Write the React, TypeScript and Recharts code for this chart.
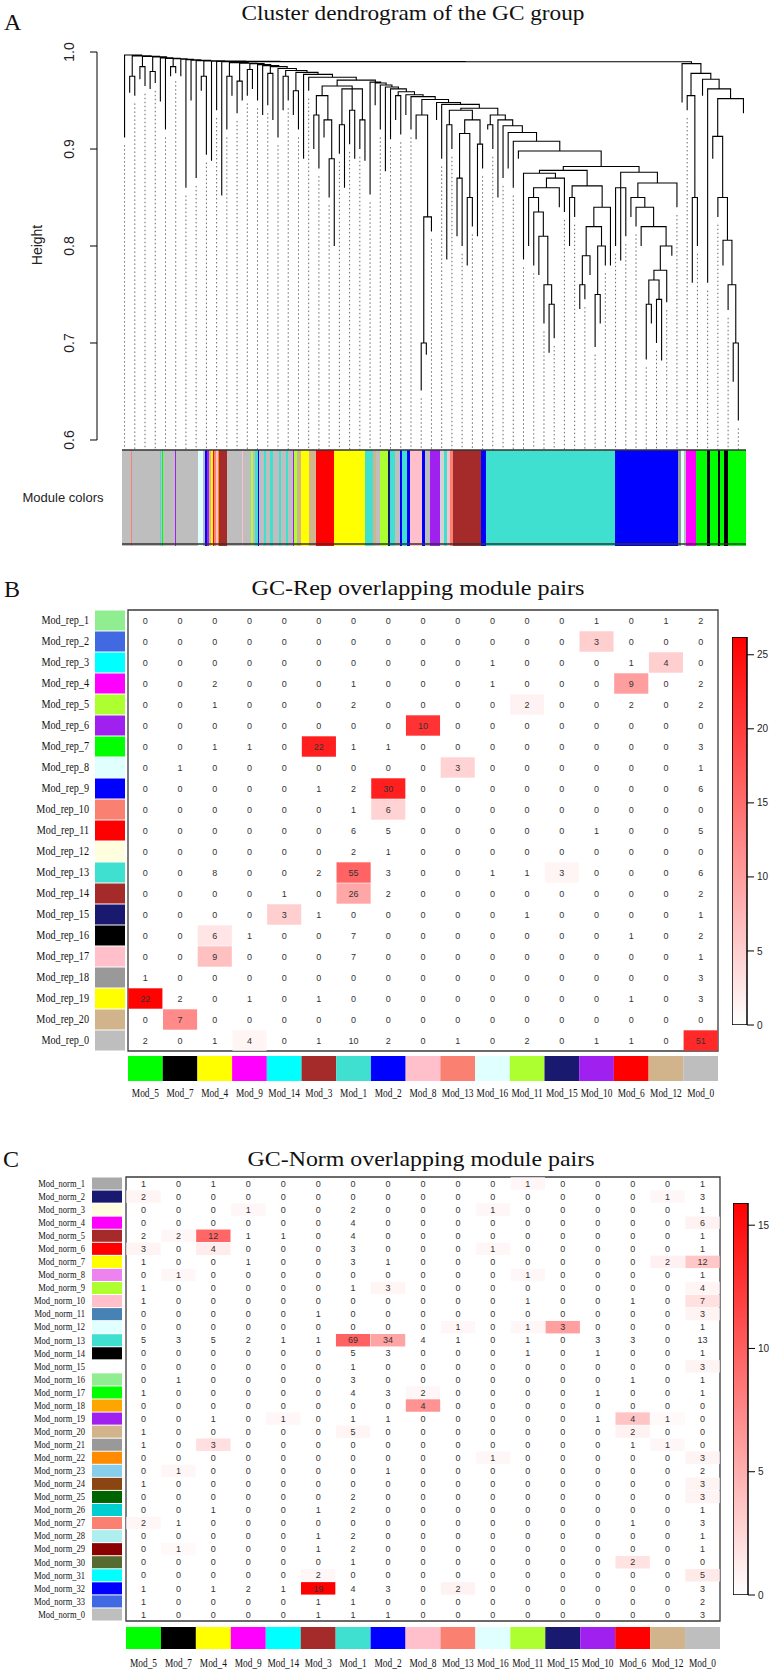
import React from 'react';
import {
  ComposedChart, Line, XAxis, YAxis, ReferenceArea, ReferenceLine,
  ScatterChart, Scatter, BarChart, Bar,
} from 'recharts';

const SERIF = '"Liberation Serif", "Times New Roman", serif';
const SANS = '"Liberation Sans", Arial, sans-serif';

// ================= Panel A : dendrogram =================
const heightTicks = [0.6, 0.7, 0.8, 0.9, 1.0];
// node: number = leaf (bottom height); array = [mergeHeight, ...children]
type TNode = number | TNode[];

const subS1: TNode = [0.965, [0.955, [0.935, 0.9, 0.88], [0.93, 0.912, [0.89, 0.85, 0.8]]], [0.962, [0.925, 0.895, 0.86], [0.94, 0.905, 0.89], [0.93, 0.9, 0.888]]];
const subS2: TNode = [0.94, [0.925, 0.786, 0.9], [0.93, [0.916, [0.87, 0.81, 0.8], [0.85, 0.78, 0.82]], [0.905, 0.81, 0.88]]];
const subM21: TNode = [0.935, 0.91, [0.83, [0.7, 0.651, 0.688], 0.815]];
const turqA: TNode = [0.875, 0.786, [0.87, [0.86, [0.85, 0.8, [0.835, 0.78, [0.81, 0.77, [0.76, 0.72, [0.74, 0.69, 0.705]]]]], 0.84], 0.835]];
const turqB: TNode = [0.862, [0.85, 0.8, 0.83], [0.84, [0.82, [0.79, [0.76, 0.735, 0.745], 0.77], [0.8, [0.75, 0.696, 0.72], 0.78]], 0.78]];
const blueBranch: TNode = [0.876, [0.86, 0.8, 0.785, 0.81], [0.865, [0.85, 0.83, [0.84, 0.82, [0.82, 0.8, [0.8, [0.775, [0.765, [0.74, 0.683, 0.72], [0.745, 0.7, 0.682]], 0.742], 0.79]]]], 0.84]];
const turqBlue: TNode = [0.882, [0.878, turqA, turqB], blueBranch];

const leftJoins = [0.997, 0.996, 0.9955, 0.995, 0.994, 0.9935, 0.993, 0.9925, 0.992, 0.9915, 0.991, 0.9908, 0.9905, 0.9903, 0.9901];
const leftItems: TNode[] = [0.912, [0.975, 0.958, 0.955], [0.985, 0.972, 0.965], [0.98, 0.962, 0.968], 0.949, 0.92, [0.985, 0.975, 0.978], 0.975, 0.86, 0.95, 0.87, [0.975, 0.96, 0.894], 0.888, 0.94, 0.852];

const middleJoins = [0.989, 0.9885, 0.988, 0.987, 0.986, 0.985, 0.983, 0.981, 0.979, 0.977, 0.974, 0.971, 0.969, 0.968, 0.966, 0.964, 0.962, 0.959, 0.956, 0.954, 0.951, 0.948, 0.946, 0.942, 0.935, 0.93, 0.924, 0.917, 0.908, 0.898];
const middleItems: TNode[] = [[0.975, 0.92, 0.955], [0.97, 0.937, 0.95], [0.982, 0.955, 0.962], 0.95, 0.935, [0.978, 0.945, 0.93], 0.912, [0.975, 0.94, 0.95], [0.96, 0.935, 0.92], 0.89, 0.96, subS1, 0.853, 0.945, 0.92, 0.877, 0.91, [0.955, 0.93, 0.915], 0.935, 0.92, subM21, 0.93, 0.89, subS2, [0.925, 0.92, 0.9], 0.85, 0.87, 0.88, 0.86, 0.89, turqBlue];

const rightChain: TNode = [0.913, 0.89, [0.85, 0.83, [0.806, 0.78, [0.76, 0.734, [0.7, 0.66, 0.62]]]]];
const rightJoins = [0.988, 0.978, 0.972];
const rightItems: TNode[] = [0.948, [0.955, 0.94, [0.85, 0.762, 0.8]], 0.955, [0.962, 0.762, [0.952, rightChain, 0.937]]];
const rootMergeHeight = 0.99;

// module colour runs along the leaf axis (widths in gene units, total 624)
const moduleColorRuns: [string, number][] = [
  ['#bebebe', 9], ['#fa8072', 1], ['#bebebe', 28], ['#40e0d0', 1], ['#bebebe', 1], ['#00ff00', 1], ['#bebebe', 12], ['#a020f0', 1], ['#bebebe', 22], ['#e0ffff', 5], ['#bebebe', 2], ['#0000ff', 2], ['#a020f0', 2], ['#d2b48c', 2], ['#ffff00', 2], ['#ff0000', 1], ['#fa8072', 2], ['#ffc0cb', 2], ['#ff8c00', 1], ['#a52a2a', 8], ['#bebebe', 15], ['#ffc0cb', 1], ['#bebebe', 8], ['#adff2f', 2], ['#bebebe', 2], ['#40e0d0', 3], ['#0000ff', 1], ['#bebebe', 5], ['#40e0d0', 2], ['#bebebe', 4], ['#40e0d0', 3], ['#bebebe', 6], ['#40e0d0', 2], ['#bebebe', 5], ['#40e0d0', 2], ['#bebebe', 5], ['#a020f0', 1], ['#adff2f', 3], ['#d2b48c', 4], ['#ffff00', 8], ['#d2b48c', 7], ['#ff0000', 18], ['#ffff00', 31], ['#40e0d0', 8], ['#d2b48c', 3], ['#bebebe', 4], ['#adff2f', 8], ['#191970', 2], ['#40e0d0', 5], ['#bebebe', 5], ['#0000ff', 2], ['#40e0d0', 5], ['#0000ff', 3], ['#ffc0cb', 12], ['#0000ff', 3], ['#bebebe', 5], ['#a020f0', 10], ['#d3d3d3', 4], ['#40e0d0', 3], ['#ffc0cb', 3], ['#fa8072', 3], ['#a52a2a', 28], ['#0000ff', 5], ['#40e0d0', 129], ['#0000ff', 63], ['#999999', 3], ['#e0ffff', 3], ['#bebebe', 2], ['#ff00ff', 10], ['#00ff00', 11], ['#000000', 3], ['#00ff00', 8], ['#000000', 2], ['#00ff00', 4], ['#000000', 4], ['#00ff00', 18],
];

// ================= Panels B and C : overlap tables =================
const colLabels = ['Mod_5', 'Mod_7', 'Mod_4', 'Mod_9', 'Mod_14', 'Mod_3', 'Mod_1', 'Mod_2', 'Mod_8', 'Mod_13', 'Mod_16', 'Mod_11', 'Mod_15', 'Mod_10', 'Mod_6', 'Mod_12', 'Mod_0'];
const colColors = ['#00ff00', '#000000', '#ffff00', '#ff00ff', '#00ffff', '#a52a2a', '#40e0d0', '#0000ff', '#ffc0cb', '#fa8072', '#e0ffff', '#adff2f', '#191970', '#a020f0', '#ff0000', '#d2b48c', '#bebebe'];

const repLabels = ['Mod_rep_1', 'Mod_rep_2', 'Mod_rep_3', 'Mod_rep_4', 'Mod_rep_5', 'Mod_rep_6', 'Mod_rep_7', 'Mod_rep_8', 'Mod_rep_9', 'Mod_rep_10', 'Mod_rep_11', 'Mod_rep_12', 'Mod_rep_13', 'Mod_rep_14', 'Mod_rep_15', 'Mod_rep_16', 'Mod_rep_17', 'Mod_rep_18', 'Mod_rep_19', 'Mod_rep_20', 'Mod_rep_0'];
const repColors = ['#90ee90', '#4169e1', '#00ffff', '#ff00ff', '#adff2f', '#a020f0', '#00ff00', '#e0ffff', '#0000ff', '#fa8072', '#ff0000', '#ffffe0', '#40e0d0', '#a52a2a', '#191970', '#000000', '#ffc0cb', '#999999', '#ffff00', '#d2b48c', '#bebebe'];
const repCounts = [
  [0, 0, 0, 0, 0, 0, 0, 0, 0, 0, 0, 0, 0, 1, 0, 1, 2],
  [0, 0, 0, 0, 0, 0, 0, 0, 0, 0, 0, 0, 0, 3, 0, 0, 0],
  [0, 0, 0, 0, 0, 0, 0, 0, 0, 0, 1, 0, 0, 0, 1, 4, 0],
  [0, 0, 2, 0, 0, 0, 1, 0, 0, 0, 1, 0, 0, 0, 9, 0, 2],
  [0, 0, 1, 0, 0, 0, 2, 0, 0, 0, 0, 2, 0, 0, 2, 0, 2],
  [0, 0, 0, 0, 0, 0, 0, 0, 10, 0, 0, 0, 0, 0, 0, 0, 0],
  [0, 0, 1, 1, 0, 22, 1, 1, 0, 0, 0, 0, 0, 0, 0, 0, 3],
  [0, 1, 0, 0, 0, 0, 0, 0, 0, 3, 0, 0, 0, 0, 0, 0, 1],
  [0, 0, 0, 0, 0, 1, 2, 30, 0, 0, 0, 0, 0, 0, 0, 0, 6],
  [0, 0, 0, 0, 0, 0, 1, 6, 0, 0, 0, 0, 0, 0, 0, 0, 0],
  [0, 0, 0, 0, 0, 0, 6, 5, 0, 0, 0, 0, 0, 1, 0, 0, 5],
  [0, 0, 0, 0, 0, 0, 2, 1, 0, 0, 0, 0, 0, 0, 0, 0, 0],
  [0, 0, 8, 0, 0, 2, 55, 3, 0, 0, 1, 1, 3, 0, 0, 0, 6],
  [0, 0, 0, 0, 1, 0, 26, 2, 0, 0, 0, 0, 0, 0, 0, 0, 2],
  [0, 0, 0, 0, 3, 1, 0, 0, 0, 0, 0, 1, 0, 0, 0, 0, 1],
  [0, 0, 6, 1, 0, 0, 7, 0, 0, 0, 0, 0, 0, 0, 1, 0, 2],
  [0, 0, 9, 0, 0, 0, 7, 0, 0, 0, 0, 0, 0, 0, 0, 0, 1],
  [1, 0, 0, 0, 0, 0, 0, 0, 0, 0, 0, 0, 0, 0, 0, 0, 3],
  [22, 2, 0, 1, 0, 1, 0, 0, 0, 0, 0, 0, 0, 0, 1, 0, 3],
  [0, 7, 0, 0, 0, 0, 0, 0, 0, 0, 0, 0, 0, 0, 0, 0, 0],
  [2, 0, 1, 4, 0, 1, 10, 2, 0, 1, 0, 2, 0, 1, 1, 0, 51],
];
// [row, column, significance] for coloured cells
const repSignif: [number, number, number][] = [
  [1, 13, 5], [2, 15, 5], [3, 14, 10], [4, 11, 1.3], [5, 8, 21], [6, 5, 23], [7, 9, 4.5], [8, 7, 23], [9, 7, 4.5], [12, 6, 16], [12, 12, 1], [13, 6, 9], [14, 4, 5], [15, 2, 2.7], [16, 2, 6.5], [18, 0, 26], [19, 1, 12], [20, 3, 1], [20, 16, 22],
];
const repScaleMax = 26.2;
const repScaleTicks = [0, 5, 10, 15, 20, 25];

const normLabels = ['Mod_norm_1', 'Mod_norm_2', 'Mod_norm_3', 'Mod_norm_4', 'Mod_norm_5', 'Mod_norm_6', 'Mod_norm_7', 'Mod_norm_8', 'Mod_norm_9', 'Mod_norm_10', 'Mod_norm_11', 'Mod_norm_12', 'Mod_norm_13', 'Mod_norm_14', 'Mod_norm_15', 'Mod_norm_16', 'Mod_norm_17', 'Mod_norm_18', 'Mod_norm_19', 'Mod_norm_20', 'Mod_norm_21', 'Mod_norm_22', 'Mod_norm_23', 'Mod_norm_24', 'Mod_norm_25', 'Mod_norm_26', 'Mod_norm_27', 'Mod_norm_28', 'Mod_norm_29', 'Mod_norm_30', 'Mod_norm_31', 'Mod_norm_32', 'Mod_norm_33', 'Mod_norm_0'];
const normColors = ['#a9a9a9', '#191970', '#ffffe0', '#ff00ff', '#a52a2a', '#ff0000', '#ffff00', '#ee82ee', '#adff2f', '#ffc0cb', '#4682b4', '#e0ffff', '#40e0d0', '#000000', '#ffffff', '#90ee90', '#00ff00', '#ffa500', '#a020f0', '#d2b48c', '#999999', '#ff8c00', '#87ceeb', '#8b4513', '#006400', '#00ced1', '#fa8072', '#afeeee', '#8b0000', '#556b2f', '#00ffff', '#0000ff', '#4169e1', '#bebebe'];
const normCounts = [
  [1, 0, 1, 0, 0, 0, 0, 0, 0, 0, 0, 1, 0, 0, 0, 0, 1],
  [2, 0, 0, 0, 0, 0, 0, 0, 0, 0, 0, 0, 0, 0, 0, 1, 3],
  [0, 0, 0, 1, 0, 0, 2, 0, 0, 0, 1, 0, 0, 0, 0, 0, 1],
  [0, 0, 0, 0, 0, 0, 4, 0, 0, 0, 0, 0, 0, 0, 0, 0, 6],
  [2, 2, 12, 1, 1, 0, 4, 0, 0, 0, 0, 0, 0, 0, 0, 0, 1],
  [3, 0, 4, 0, 0, 0, 3, 0, 0, 0, 1, 0, 0, 0, 0, 0, 1],
  [1, 0, 0, 1, 0, 0, 3, 1, 0, 0, 0, 0, 0, 0, 0, 2, 12],
  [0, 1, 0, 0, 0, 0, 0, 0, 0, 0, 0, 1, 0, 0, 0, 0, 1],
  [1, 0, 0, 0, 0, 0, 1, 3, 0, 0, 0, 0, 0, 0, 0, 0, 4],
  [1, 0, 0, 0, 0, 0, 0, 0, 0, 0, 0, 1, 0, 0, 1, 0, 7],
  [0, 0, 0, 0, 0, 1, 0, 0, 0, 0, 0, 0, 0, 0, 0, 0, 3],
  [0, 0, 0, 0, 0, 0, 0, 0, 0, 1, 0, 1, 3, 0, 0, 0, 1],
  [5, 3, 5, 2, 1, 1, 69, 34, 4, 1, 0, 1, 0, 3, 3, 0, 13],
  [0, 0, 0, 0, 0, 0, 5, 3, 0, 0, 0, 1, 0, 1, 0, 0, 1],
  [0, 0, 0, 0, 0, 0, 1, 0, 0, 0, 0, 0, 0, 0, 0, 0, 3],
  [0, 1, 0, 0, 0, 0, 3, 0, 0, 0, 0, 0, 0, 0, 1, 0, 1],
  [1, 0, 0, 0, 0, 0, 4, 3, 2, 0, 0, 0, 0, 1, 0, 0, 1],
  [0, 0, 0, 0, 0, 0, 0, 0, 4, 0, 0, 0, 0, 0, 0, 0, 0],
  [0, 0, 1, 0, 1, 0, 1, 1, 0, 0, 0, 0, 0, 1, 4, 1, 0],
  [1, 0, 0, 0, 0, 0, 5, 0, 0, 0, 0, 0, 0, 0, 2, 0, 0],
  [1, 0, 3, 0, 0, 0, 0, 0, 0, 0, 0, 0, 0, 0, 1, 1, 0],
  [0, 0, 0, 0, 0, 0, 0, 0, 0, 0, 1, 0, 0, 0, 0, 0, 3],
  [0, 1, 0, 0, 0, 0, 0, 1, 0, 0, 0, 0, 0, 0, 0, 0, 2],
  [1, 0, 0, 0, 0, 0, 0, 0, 0, 0, 0, 0, 0, 0, 0, 0, 3],
  [0, 0, 0, 0, 0, 0, 2, 0, 0, 0, 0, 0, 0, 0, 0, 0, 3],
  [0, 0, 1, 0, 0, 1, 2, 0, 0, 0, 0, 0, 0, 0, 0, 0, 1],
  [2, 1, 0, 0, 0, 0, 0, 0, 0, 0, 0, 0, 0, 0, 1, 0, 3],
  [0, 0, 0, 0, 0, 1, 2, 0, 0, 0, 0, 0, 0, 0, 0, 0, 1],
  [0, 1, 0, 0, 0, 1, 2, 0, 0, 0, 0, 0, 0, 0, 0, 0, 1],
  [0, 0, 0, 0, 0, 0, 1, 0, 0, 0, 0, 0, 0, 0, 2, 0, 0],
  [0, 0, 0, 0, 0, 2, 0, 0, 0, 0, 0, 0, 0, 0, 0, 0, 5],
  [1, 0, 1, 2, 1, 19, 4, 3, 0, 2, 0, 0, 0, 0, 0, 0, 3],
  [1, 0, 0, 0, 0, 1, 1, 0, 0, 0, 0, 0, 0, 0, 0, 0, 2],
  [1, 0, 0, 0, 0, 1, 1, 1, 0, 0, 0, 0, 0, 0, 0, 0, 3],
];
const normSignif: [number, number, number][] = [
  [0, 11, 0.5], [1, 0, 0.6], [1, 15, 0.5], [2, 3, 0.5], [2, 10, 0.5], [3, 16, 0.8], [4, 2, 9.5], [4, 1, 0.5], [5, 0, 0.7], [5, 2, 1.2], [5, 10, 0.5], [6, 15, 0.9], [6, 16, 3.5], [7, 1, 0.5], [7, 11, 0.5], [8, 7, 0.6], [8, 16, 0.6], [9, 16, 1.9], [10, 16, 0.7], [11, 9, 0.5], [11, 11, 0.5], [11, 12, 6], [12, 6, 9.8], [12, 7, 5.7], [14, 16, 0.7], [16, 8, 0.5], [17, 8, 6.8], [18, 4, 0.5], [18, 14, 3.7], [18, 15, 0.4], [19, 6, 0.6], [19, 14, 0.8], [20, 2, 2], [20, 15, 0.5], [21, 10, 0.5], [21, 16, 0.7], [22, 1, 0.5], [23, 16, 0.7], [24, 16, 0.7], [26, 0, 0.5], [28, 1, 0.4], [29, 14, 1.8], [30, 5, 0.5], [30, 16, 1.3], [31, 5, 15.9], [31, 9, 0.8],
];
const normScaleMax = 15.9;
const normScaleTicks = [0, 5, 10, 15];

// ================= helpers =================
function comb(joins: number[], items: TNode[]): TNode {
  let rest = items[items.length - 1];
  for (let k = items.length - 2; k >= 0; k--) rest = [joins[k], items[k], rest];
  return rest;
}
function countLeaves(n: TNode): number {
  if (typeof n === 'number') return 1;
  return n.slice(1).reduce((s: number, c) => s + countLeaves(c as TNode), 0);
}

const LEAF_SPAN = 624;
const COLOR_BAR_TOP = 0.5897;
const DOMAIN_BOTTOM = 0.4907;

function buildDendrogram() {
  const right = comb(rightJoins, rightItems);
  const middle = comb(middleJoins, middleItems);
  const mr: TNode = [rootMergeHeight, middle, right];
  const root = comb(leftJoins, [...leftItems, mr]);
  const n = countLeaves(root);
  const step = LEAF_SPAN / n;
  const pts: { x: number; y: number | null }[] = [];
  const leaves: { x: number; h: number }[] = [];
  let idx = 0;
  const walk = (node: TNode): { x: number; h: number } => {
    if (typeof node === 'number') {
      const x = (idx + 0.5) * step;
      idx++;
      leaves.push({ x, h: node });
      return { x, h: node };
    }
    const h = node[0] as number;
    const kids = node.slice(1).map((c) => walk(c as TNode));
    const a = kids[0];
    const b = kids[kids.length - 1];
    pts.push({ x: a.x, y: a.h }, { x: a.x, y: h }, { x: b.x, y: h }, { x: b.x, y: b.h }, { x: b.x, y: null });
    kids.slice(1, -1).forEach((k) => pts.push({ x: k.x, y: k.h }, { x: k.x, y: h }, { x: k.x, y: null }));
    return { x: (a.x + b.x) / 2, h };
  };
  walk(root);
  const guides: { x: number; y: number | null }[] = [];
  leaves.forEach((l, i) => {
    if (i % 2 === 0) guides.push({ x: l.x, y: l.h - 0.008 }, { x: l.x, y: COLOR_BAR_TOP }, { x: l.x, y: null });
  });
  return { pts, guides };
}

const dendro = buildDendrogram();
const colorAreas = (() => {
  let acc = 0;
  return moduleColorRuns.map(([c, w]) => {
    const a = { x1: acc, x2: acc + w, color: c };
    acc += w;
    return a;
  });
})();

const heat = (v: number, max: number) => {
  const t = Math.max(0, Math.min(1, v / max));
  const g = Math.round(255 * (1 - t));
  return `rgb(255,${g},${g})`;
};

const HeightTick = (p: any) => {
  const { x, y, payload } = p;
  return (
    <text transform={`translate(${x - 16},${y}) rotate(-90)`} textAnchor="middle" fontFamily={SANS} fontSize={14} fill="#222">
      {Number(payload.value).toFixed(1)}
    </text>
  );
};

function PanelA() {
  return (
    <ComposedChart width={775} height={560} margin={{ top: 40, right: 25, bottom: 14, left: 37 }}>
      <XAxis type="number" dataKey="x" domain={[-25, 628]} hide allowDataOverflow />
      <YAxis type="number" domain={[DOMAIN_BOTTOM, 1.0124]} ticks={heightTicks} width={60} axisLine={false}
        tickLine={{ stroke: '#000' }} tickSize={7} tickMargin={0} tick={<HeightTick />} allowDataOverflow interval={0} />
      {colorAreas.map((a, i) => (
        <ReferenceArea key={i} x1={a.x1} x2={a.x2} y1={DOMAIN_BOTTOM} y2={COLOR_BAR_TOP} fill={a.color} fillOpacity={1} stroke="none" />
      ))}
      <ReferenceLine segment={[{ x: 0, y: COLOR_BAR_TOP }, { x: LEAF_SPAN, y: COLOR_BAR_TOP }]} stroke="#333" strokeWidth={1.5} />
      <ReferenceLine segment={[{ x: 0, y: DOMAIN_BOTTOM + 0.002 }, { x: LEAF_SPAN, y: DOMAIN_BOTTOM + 0.002 }]} stroke="#333" strokeWidth={1.5} />
      <ReferenceLine segment={[{ x: -25, y: 0.6 }, { x: -25, y: 1.0 }]} stroke="#000" ifOverflow="visible" />
      <Line data={dendro.guides} dataKey="y" stroke="#444" strokeWidth={0.8} strokeDasharray="1.5 2.5" dot={false}
        activeDot={false} isAnimationActive={false} connectNulls={false} />
      <Line data={dendro.pts} dataKey="y" stroke="#000" strokeWidth={1.1} dot={false} activeDot={false}
        isAnimationActive={false} connectNulls={false} />
    </ComposedChart>
  );
}

type HeatProps = {
  height: number; marginTop: number; marginBottom: number;
  plotLeft: number; plotRight: number; xAxisH: number;
  rowLabels: string[]; rowColors: string[]; counts: number[][];
  signif: [number, number, number][]; max: number;
  rowFont: number; labelEnd: number; swatchW: number; swatchGap: number;
  barTop: number; barH: number; labelY: number;
};

function Heatmap(p: HeatProps) {
  const nRows = p.rowLabels.length;
  const nCols = colLabels.length;
  const plotH = p.height - p.marginTop - p.marginBottom - p.xAxisH;
  const cw = (p.plotRight - p.plotLeft) / nCols;
  const ch = plotH / nRows;
  const sigMap = new Map<string, number>();
  p.signif.forEach(([r, c, s]) => sigMap.set(`${r}-${c}`, s));
  const data: any[] = [];
  p.counts.forEach((row, r) => row.forEach((n, c) => data.push({ x: c + 0.5, y: r + 0.5, n, s: sigMap.get(`${r}-${c}`) || 0 })));
  const rowTicks = p.rowLabels.map((_, i) => i + 0.5);
  const colTicks = colLabels.map((_, i) => i + 0.5);

  const RowTick = (t: any) => {
    const i = Math.round(t.payload.value - 0.5);
    return (
      <g>
        <rect x={t.x - p.swatchGap - p.swatchW} y={t.y - ch / 2 + 0.5} width={p.swatchW} height={ch - 1} fill={p.rowColors[i]} />
        <text transform={`translate(${p.labelEnd},${t.y + p.rowFont * 0.33}) scale(0.85,1)`} textAnchor="end"
          fontFamily={SERIF} fontSize={p.rowFont} fill="#111">{p.rowLabels[i]}</text>
      </g>
    );
  };
  const ColTick = (t: any) => {
    const i = Math.round(t.payload.value - 0.5);
    return (
      <g>
        <rect x={t.x - cw / 2} y={t.y + p.barTop} width={cw} height={p.barH} fill={colColors[i]} />
        <text transform={`translate(${t.x},${t.y + p.labelY}) scale(0.78,1)`} textAnchor="middle"
          fontFamily={SERIF} fontSize={12} fill="#111">{colLabels[i]}</text>
      </g>
    );
  };
  const Cell = (s: any) => {
    const { cx, cy, payload } = s;
    return (
      <g>
        {payload.s > 0 && (
          <rect x={cx - cw / 2 + 0.3} y={cy - ch / 2 + 0.3} width={cw - 0.6} height={ch - 0.6} fill={heat(payload.s, p.max)} />
        )}
        <text x={cx} y={cy + 3.2} textAnchor="middle" fontFamily={SANS} fontSize={9} fill="#333">{payload.n}</text>
      </g>
    );
  };
  return (
    <ScatterChart width={775} height={p.height}
      margin={{ top: p.marginTop, right: 775 - p.plotRight, bottom: p.marginBottom, left: 0 }}>
      <XAxis type="number" dataKey="x" domain={[0, nCols]} ticks={colTicks} interval={0} height={p.xAxisH}
        axisLine={false} tickLine={false} tickSize={0} tickMargin={0} tick={<ColTick />} allowDataOverflow />
      <YAxis type="number" dataKey="y" domain={[0, nRows]} reversed ticks={rowTicks} interval={0} width={p.plotLeft}
        axisLine={false} tickLine={false} tickSize={0} tickMargin={0} tick={<RowTick />} allowDataOverflow />
      <Scatter data={data} shape={<Cell />} isAnimationActive={false} />
      <ReferenceArea x1={0} x2={nCols} y1={0} y2={nRows} fill="none" stroke="#3a3a3a" strokeWidth={1.3} ifOverflow="visible" />
    </ScatterChart>
  );
}

function ColorBar({ id, left, top, bottom, max, ticks }: { id: string; left: number; top: number; bottom: number; max: number; ticks: number[] }) {
  const pad = 8;
  return (
    <div style={{ position: 'absolute', left, top: top - pad }}>
      <BarChart width={55} height={bottom - top + 2 * pad} data={[{ k: 'scale', v: max }]}
        margin={{ top: pad, bottom: pad, left: 0, right: 0 }} barCategoryGap={0}>
        <defs>
          <linearGradient id={id} x1="0" y1="1" x2="0" y2="0">
            <stop offset="0" stopColor="#ffffff" />
            <stop offset="1" stopColor="#ff0000" />
          </linearGradient>
        </defs>
        <XAxis dataKey="k" hide />
        <YAxis orientation="right" type="number" domain={[0, max]} ticks={ticks} interval={0} width={40}
          axisLine={false} tickLine={{ stroke: '#000' }} tickSize={7} tickMargin={3}
          tick={{ fontFamily: SANS, fontSize: 10, fill: '#222' }} allowDataOverflow />
        <Bar dataKey="v" fill={`url(#${id})`} stroke="#000" strokeWidth={1.5} isAnimationActive={false} />
      </BarChart>
    </div>
  );
}

export default function App() {
  return (
    <div style={{ position: 'absolute', left: 0, top: 0, width: 775, height: 1674, background: '#fff', overflow: 'hidden' }}>
      <div style={{ position: 'absolute', left: 0, top: 0 }}>
        <PanelA />
      </div>
      <div style={{ position: 'absolute', left: 0, top: 560 }}>
        <Heatmap height={550} marginTop={50} marginBottom={5} plotLeft={128} plotRight={718} xAxisH={54}
          rowLabels={repLabels} rowColors={repColors} counts={repCounts} signif={repSignif} max={repScaleMax}
          rowFont={12} labelEnd={89} swatchW={30} swatchGap={3} barTop={5} barH={25} labelY={46} />
      </div>
      <div style={{ position: 'absolute', left: 0, top: 1120 }}>
        <Heatmap height={554} marginTop={57} marginBottom={3} plotLeft={126} plotRight={720} xAxisH={50}
          rowLabels={normLabels} rowColors={normColors} counts={normCounts} signif={normSignif} max={normScaleMax}
          rowFont={10} labelEnd={85} swatchW={30} swatchGap={4} barTop={6} barH={22} labelY={46} />
      </div>
      <ColorBar id="gradRep" left={732} top={637} bottom={1025} max={repScaleMax} ticks={repScaleTicks} />
      <ColorBar id="gradNorm" left={733} top={1203} bottom={1595} max={normScaleMax} ticks={normScaleTicks} />
      <svg width={775} height={1674} style={{ position: 'absolute', left: 0, top: 0, pointerEvents: 'none' }}>
        <text x={4} y={30} fontFamily={SERIF} fontSize={24} fill="#111">A</text>
        <text x={413} y={20} textAnchor="middle" fontFamily={SERIF} fontSize={21} fill="#111" textLength={343} lengthAdjust="spacingAndGlyphs">Cluster dendrogram of the GC group</text>
        <text transform="translate(42,245) rotate(-90)" textAnchor="middle" fontFamily={SANS} fontSize={14} fill="#222">Height</text>
        <text x={63} y={502} textAnchor="middle" fontFamily={SANS} fontSize={13} fill="#222">Module colors</text>
        <text x={4} y={597} fontFamily={SERIF} fontSize={24} fill="#111">B</text>
        <text x={418} y={595} textAnchor="middle" fontFamily={SERIF} fontSize={22} fill="#111" textLength={333} lengthAdjust="spacingAndGlyphs">GC-Rep overlapping module pairs</text>
        <text x={3} y={1167} fontFamily={SERIF} fontSize={24} fill="#111">C</text>
        <text x={421} y={1166} textAnchor="middle" fontFamily={SERIF} fontSize={22} fill="#111" textLength={347} lengthAdjust="spacingAndGlyphs">GC-Norm overlapping module pairs</text>
      </svg>
    </div>
  );
}
